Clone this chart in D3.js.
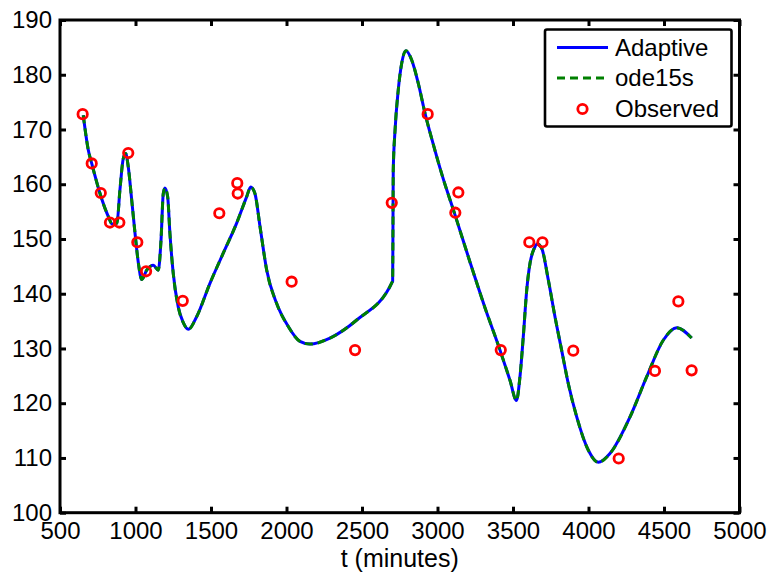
<!DOCTYPE html>
<html>
<head>
<meta charset="utf-8">
<script src="https://cdn.jsdelivr.net/npm/d3@7"></script>
<style>
  html, body { margin: 0; padding: 0; background: #fff; }
  svg { display: block; font-family: "Liberation Sans", Arial, Helvetica, sans-serif; }
</style>
</head>
<body>
<svg id="chart" width="770" height="572"></svg>
<script>
// Model time grid (minutes) and simulated glucose from the two solvers
const curveT = [654, 687, 710, 765, 820, 846, 877, 897, 919, 935, 952, 975, 997, 1019, 1041,
  1074, 1118, 1151, 1169, 1184, 1195, 1213, 1228, 1250, 1283, 1315, 1350, 1405, 1493, 1581,
  1670, 1736, 1763, 1791, 1825, 1869, 1935, 2012, 2089, 2156, 2288, 2465, 2703, 2705, 2707,
  2719, 2740, 2763, 2791, 2829, 2873, 2917, 2970, 3030, 3116, 3215, 3315, 3414, 3480, 3523,
  3546, 3568, 3591, 3613, 3641, 3661, 3690, 3734, 3778, 3822, 3866, 3922, 3999, 4065, 4142,
  4275, 4385, 4495, 4584, 4683];

const adaptiveG = [172.6, 166.3, 163.8, 158.3, 154.1, 152.7, 152.9, 159.0, 164.7, 165.6, 163.2,
  157.1, 151.0, 145.6, 142.6, 144.3, 145.2, 144.3, 149.8, 158.3, 159.3, 157.7, 151.0, 143.7,
  137.6, 134.8, 133.5, 135.8, 141.9, 147.4, 152.9, 157.7, 159.5, 158.3, 152.2, 144.3, 138.2,
  134.0, 131.3, 130.8, 131.9, 135.2, 142.3, 151.6, 162.6, 169.9, 177.2, 182.1, 184.4, 182.7,
  178.4, 173.0, 167.5, 161.7, 154.4, 145.8, 137.4, 129.7, 124.2, 120.5, 124.8, 132.1, 140.7,
  145.6, 148.3, 149.1, 148.3, 142.5, 135.8, 129.7, 123.6, 117.5, 111.4, 109.2, 110.8, 117.5,
  124.8, 131.5, 133.8, 131.9];

const ode15sG = [172.6, 166.3, 163.8, 158.3, 154.1, 152.7, 152.9, 159.0, 164.7, 165.6, 163.2,
  157.1, 151.0, 145.6, 142.6, 144.3, 145.2, 144.3, 149.8, 158.3, 159.3, 157.7, 151.0, 143.7,
  137.6, 134.8, 133.5, 135.8, 141.9, 147.4, 152.9, 157.7, 159.5, 158.3, 152.2, 144.3, 138.2,
  134.0, 131.3, 130.8, 131.9, 135.2, 142.3, 151.6, 162.6, 169.9, 177.2, 182.1, 184.4, 182.7,
  178.4, 173.0, 167.5, 161.7, 154.4, 145.8, 137.4, 129.7, 124.2, 120.5, 124.8, 132.1, 140.7,
  145.6, 148.3, 149.1, 148.3, 142.5, 135.8, 129.7, 123.6, 117.5, 111.4, 109.2, 110.8, 117.5,
  124.8, 131.5, 133.8, 131.9];

// Measured samples
const obsT = [650, 710, 770, 831, 893, 952, 1012, 1070, 1313, 1555, 1674, 1677, 2034, 2454,
  2697, 2935, 3118, 3138, 3419, 3608, 3695, 3899, 4200, 4440, 4595, 4683];
const obsG = [172.8, 163.8, 158.4, 153.0, 153.0, 165.7, 149.4, 144.1, 138.7, 154.7, 160.2, 158.3,
  142.2, 129.7, 156.6, 172.8, 154.8, 158.5, 129.7, 149.4, 149.4, 129.6, 109.9, 125.9, 138.6, 126.0];

const xTicks = [500, 1000, 1500, 2000, 2500, 3000, 3500, 4000, 4500, 5000];
const yTicks = [100, 110, 120, 130, 140, 150, 160, 170, 180, 190];
const seriesNames = ["Adaptive", "ode15s", "Observed"];
const xLabel = "t (minutes)";

const svg = d3.select("#chart");
const plotL = 60, plotR = 739.5, plotT = 20, plotB = 512.7;

const x = d3.scaleLinear().domain([500, 5000]).range([plotL, plotR]);
const y = d3.scaleLinear().domain([100, 190]).range([plotB, plotT]);

const FONT = 24;

// Axes with inward ticks on all four sides
function styleAxis(g) {
  g.select(".domain").remove();
  g.selectAll(".tick line").attr("stroke", "#000").attr("stroke-width", 3);
  g.selectAll(".tick text").attr("fill", "#000").style("font-size", FONT + "px");
}

svg.append("g").attr("transform", `translate(0,${plotB})`)
  .call(d3.axisBottom(x).tickValues(xTicks).tickFormat(d3.format("d"))
    .tickSizeInner(-6).tickSizeOuter(0).tickPadding(9.5))
  .call(styleAxis);

svg.append("g").attr("transform", `translate(0,${plotT})`)
  .call(d3.axisTop(x).tickValues(xTicks).tickFormat("")
    .tickSizeInner(-6).tickSizeOuter(0))
  .call(styleAxis);

svg.append("g").attr("transform", `translate(${plotL},0)`)
  .call(d3.axisLeft(y).tickValues(yTicks).tickFormat(d3.format("d"))
    .tickSizeInner(-6).tickSizeOuter(0).tickPadding(8))
  .call(styleAxis);

svg.append("g").attr("transform", `translate(${plotR},0)`)
  .call(d3.axisRight(y).tickValues(yTicks).tickFormat("")
    .tickSizeInner(-6).tickSizeOuter(0))
  .call(styleAxis);

// Plot frame
svg.append("rect")
  .attr("x", plotL).attr("y", plotT)
  .attr("width", plotR - plotL).attr("height", plotB - plotT)
  .attr("fill", "none").attr("stroke", "#000").attr("stroke-width", 3);

// x-axis title
svg.append("text")
  .attr("x", (plotL + plotR) / 2).attr("y", 566.8)
  .attr("text-anchor", "middle")
  .style("font-size", "25px")
  .text(xLabel);

// Solver curves
const lineOf = vals => d3.line()
  .x((d, i) => x(curveT[i]))
  .y(d => y(d))
  .curve(d3.curveMonotoneX)(vals);

svg.append("path")
  .attr("d", lineOf(adaptiveG))
  .attr("fill", "none").attr("stroke", "#0000ff").attr("stroke-width", 3)
  .attr("stroke-linejoin", "round");

svg.append("path")
  .attr("d", lineOf(ode15sG))
  .attr("fill", "none").attr("stroke", "#008000").attr("stroke-width", 3)
  .attr("stroke-dasharray", "8,5");

// Observed points
svg.append("g").selectAll("circle")
  .data(obsT)
  .join("circle")
  .attr("cx", d => x(d))
  .attr("cy", (d, i) => y(obsG[i]))
  .attr("r", 4.7)
  .attr("fill", "none").attr("stroke", "#ff0000").attr("stroke-width", 2.8);

// Legend
const lg = svg.append("g");
lg.append("rect")
  .attr("x", 545).attr("y", 29.5).attr("width", 186.5).attr("height", 97)
  .attr("rx", 2)
  .attr("fill", "#fff").attr("stroke", "#000").attr("stroke-width", 2.6);

const rowsY = [47.5, 78, 109];
lg.append("line").attr("x1", 557).attr("x2", 608).attr("y1", rowsY[0]).attr("y2", rowsY[0])
  .attr("stroke", "#0000ff").attr("stroke-width", 3);
lg.append("line").attr("x1", 557).attr("x2", 608).attr("y1", rowsY[1]).attr("y2", rowsY[1])
  .attr("stroke", "#008000").attr("stroke-width", 3).attr("stroke-dasharray", "8,5");
lg.append("circle").attr("cx", 582.5).attr("cy", rowsY[2]).attr("r", 4.7)
  .attr("fill", "none").attr("stroke", "#ff0000").attr("stroke-width", 2.8);

lg.selectAll("text.lab")
  .data(seriesNames)
  .join("text")
  .attr("class", "lab")
  .attr("x", 615)
  .attr("y", (d, i) => rowsY[i])
  .attr("dy", "0.35em")
  .style("font-size", FONT + "px")
  .text(d => d);
</script>
</body>
</html>
